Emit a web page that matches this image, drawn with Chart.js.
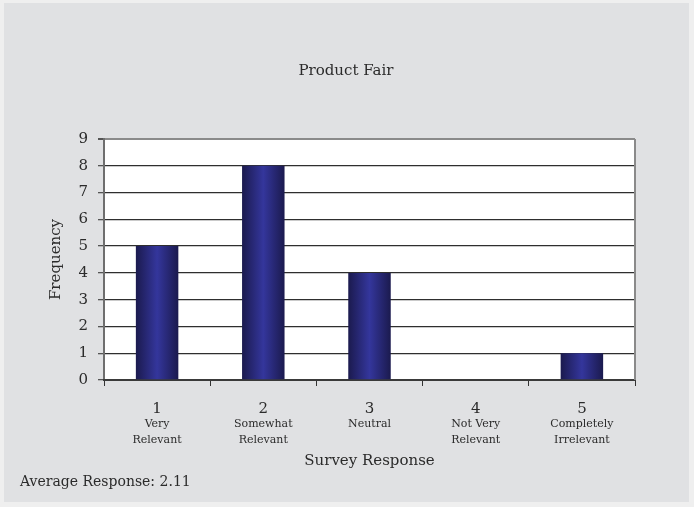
<!DOCTYPE html>
<html>
<head>
<meta charset="utf-8">
<script src="https://cdn.jsdelivr.net/npm/chart.js@4"></script>
<style>
	body { margin: 0; background: #efefef; }
	#panel { position: absolute; left: 4px; top: 3px; width: 685px; height: 499px; background: #e0e1e3; }
	#wrap { position: absolute; left: 0; top: 0; width: 694px; height: 507px; }
</style>
</head>
<body>
<div id="panel"></div>
<div id="wrap"><canvas id="surveyChart" width="694" height="507"></canvas></div>
<script>
var chartTitle   = 'Product Fair';
var footNote     = 'Average Response: 2.11';
var categories   = ['1', '2', '3', '4', '5'];
var subLabels    = [['Very', 'Relevant'], ['Somewhat', 'Relevant'], ['Neutral'], ['Not Very', 'Relevant'], ['Completely', 'Irrelevant']];
var frequencies  = [5, 8, 4, 0, 1];
var yTicks       = [0, 1, 2, 3, 4, 5, 6, 7, 8, 9];

var serif = 'DejaVu Serif';
var textColor = '#2b2b2b';

// gradient per bar, dark edges and a lighter middle
function barFill(context) {
	var chart = context.chart;
	if (!chart.chartArea) return '#1e1d55';
	var xs = chart.scales.x;
	var cx = xs.getPixelForValue(context.dataIndex);
	var half = xs.width / categories.length * 0.4 / 2;
	var g = chart.ctx.createLinearGradient(cx - half, 0, cx + half, 0);
	g.addColorStop(0, '#1b1a4e');
	g.addColorStop(0.5, '#34369c');
	g.addColorStop(1, '#1b1a4e');
	return g;
}

var panelText = {
	id: 'panelText',
	beforeDraw: function(chart) {
		var c = chart.ctx, a = chart.chartArea;
		c.save();
		c.fillStyle = '#ffffff';
		c.fillRect(a.left, a.top, a.right - a.left, a.bottom - a.top);
		c.restore();
	},
	afterDraw: function(chart) {
		var c = chart.ctx, a = chart.chartArea;
		c.save();
		// right edge of the plot frame
		c.strokeStyle = '#8a8a8a';
		c.lineWidth = 2;
		c.beginPath();
		c.moveTo(a.right, a.top);
		c.lineTo(a.right, a.bottom);
		c.stroke();
		c.fillStyle = textColor;
		c.textBaseline = 'middle';
		c.font = '15px "' + serif + '"';
		c.textAlign = 'center';
		c.fillText(chartTitle, 346, 71);
		c.font = '14px "' + serif + '"';
		c.textAlign = 'left';
		c.fillText(footNote, 20, 482);
		c.restore();
	}
};

new Chart(document.getElementById('surveyChart'), {
	type: 'bar',
	data: {
		labels: categories,
		datasets: [{
			label: 'Frequency',
			data: frequencies,
			backgroundColor: barFill,
			barPercentage: 0.4,
			categoryPercentage: 1
		}]
	},
	options: {
		responsive: false,
		animation: false,
		layout: { padding: { left: 43, right: 59, top: 139, bottom: 33 } },
		plugins: {
			legend: { display: false },
			tooltip: { enabled: false }
		},
		scales: {
			y: {
				min: 0,
				max: 9,
				afterFit: function(s) { s.width = 61; },
				afterBuildTicks: function(s) { s.ticks = yTicks.map(function(v) { return { value: v }; }); },
				ticks: { stepSize: 1, padding: 10, color: textColor, font: { family: serif, size: 15 } },
				grid: {
					color: function(ctx) { return ctx.tick && ctx.tick.value === 9 ? '#8a8a8a' : '#2e2e2e'; },
					lineWidth: function(ctx) { return ctx.tick && ctx.tick.value === 9 ? 2 : 1.3; },
					tickLength: 6,
					tickColor: '#555'
				},
				border: { color: '#6e6e6e', width: 2 },
				title: { display: true, text: 'Frequency', color: textColor, font: { family: serif, size: 15 } }
			},
			x: {
				afterFit: function(s) { s.height = 36; },
				ticks: { padding: 14, color: textColor, font: { family: serif, size: 15 } },
				grid: { offset: true, drawOnChartArea: false, tickLength: 6, color: '#333' },
				border: { color: '#3a3a3a', width: 2 }
			},
			x2: {
				type: 'category',
				position: 'bottom',
				labels: subLabels,
				offset: true,
				afterFit: function(s) { s.height = 58; },
				ticks: { padding: -8, color: textColor, font: { family: serif, size: 11, lineHeight: '16px' } },
				grid: { display: false },
				border: { display: false },
				title: { display: true, text: 'Survey Response', color: textColor, font: { family: serif, size: 15 } }
			}
		}
	},
	plugins: [panelText]
});
</script>
</body>
</html>
